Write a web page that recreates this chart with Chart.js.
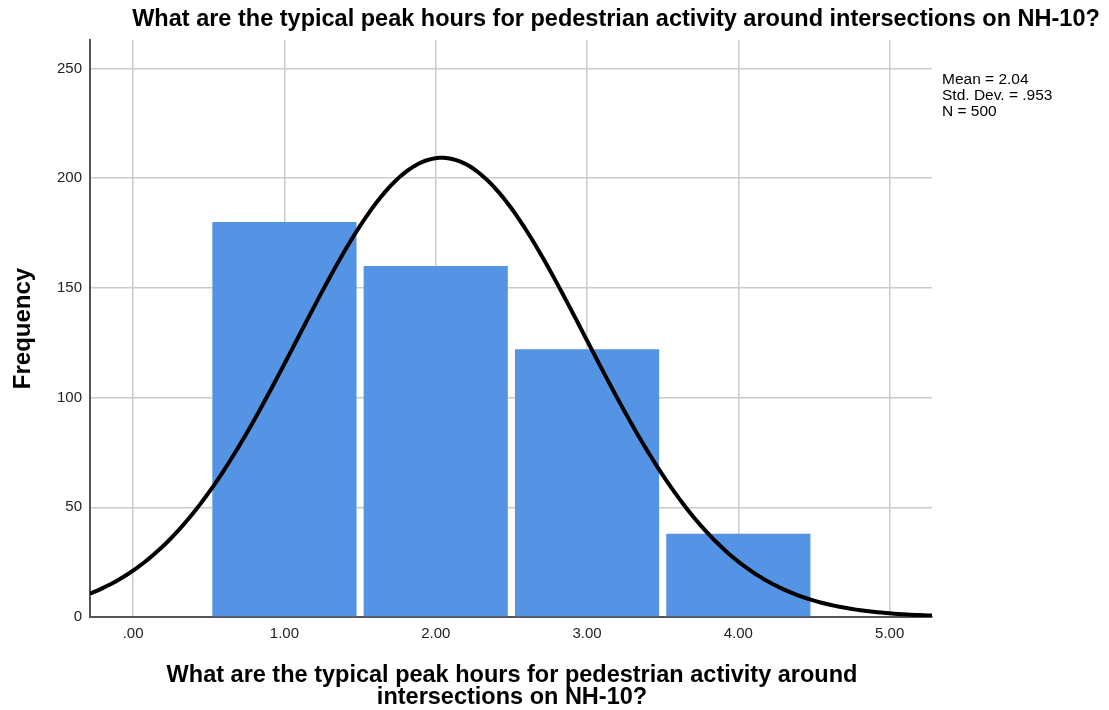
<!DOCTYPE html>
<html>
<head>
<meta charset="utf-8">
<title>Peak hours histogram</title>
<script src="https://cdn.jsdelivr.net/npm/chart.js@4.4.1/dist/chart.umd.min.js"></script>
<style>
  html, body { margin: 0; padding: 0; background: #fff; }
  canvas { display: block; }
</style>
</head>
<body>
<canvas id="hist-chart" width="1109" height="710"></canvas>
<script>
// histogram values
const binCenters = [1, 2, 3, 4];
const frequencies = [180, 160, 122, 38];

// axis ticks
const xTickValues = [0, 1, 2, 3, 4, 5];
const xTickLabels = [".00", "1.00", "2.00", "3.00", "4.00", "5.00"];
const yTickValues = [0, 50, 100, 150, 200, 250];

// fitted normal curve parameters (shown in the chart)
const statMean = 2.04;
const statStdDev = 0.953;
const statN = 500;
const statLines = ["Mean = 2.04", "Std. Dev. = .953", "N = 500"];

const chartTitle = "What are the typical peak hours for pedestrian activity around intersections on NH-10?";
const xTitleLines = ["What are the typical peak hours for pedestrian activity around", "intersections on NH-10?"];
const yTitle = "Frequency";

const xMin = -0.285, xMax = 5.28;
const yMin = 0, yMax = 263;

// normal curve scaled to the histogram (bin width 1)
const curvePoints = [];
for (let i = 0; i <= 200; i++) {
    const x = xMin + (xMax - xMin) * i / 200;
    const z = (x - statMean) / statStdDev;
    const y = statN / (statStdDev * Math.sqrt(2 * Math.PI)) * Math.exp(-0.5 * z * z);
    curvePoints.push({ x: x, y: y });
}

const font = "'Liberation Sans', Arial, sans-serif";

// title, axis titles and stats box drawn by hand
const textPlugin = {
    id: "spssText",
    afterDraw(chart) {
        const ctx = chart.ctx;
        const area = chart.chartArea;
        ctx.save();
        ctx.fillStyle = "#000";
        ctx.textBaseline = "middle";

        ctx.font = "bold 23.5px " + font;
        ctx.textAlign = "center";
        ctx.fillText(chartTitle, 616, 20);

        const cx = (area.left + area.right) / 2;
        ctx.fillText(xTitleLines[0], cx + 1, 676);
        ctx.fillText(xTitleLines[1], cx + 1, 698);

        ctx.save();
        ctx.translate(23, (area.top + area.bottom) / 2);
        ctx.rotate(-Math.PI / 2);
        ctx.font = "bold 24px " + font;
        ctx.fillText(yTitle, 0, 0);
        ctx.restore();

        ctx.font = "15.5px " + font;
        ctx.textAlign = "left";
        statLines.forEach((line, i) => {
            ctx.fillText(line, 942, 80 + i * 16);
        });
        ctx.restore();
    }
};

const ctx = document.getElementById("hist-chart").getContext("2d");
new Chart(ctx, {
    type: "bar",
    data: {
        datasets: [
            {
                type: "line",
                label: "Normal",
                data: curvePoints,
                borderColor: "#000",
                borderWidth: 4,
                pointRadius: 0,
                tension: 0,
                fill: false,
                order: 0,
            },
            {
                type: "bar",
                label: "Frequency",
                data: binCenters.map((c, i) => ({ x: c, y: frequencies[i] })),
                backgroundColor: "#5594e4",
                borderWidth: 0,
                barPercentage: 0.953,
                categoryPercentage: 1.0,
                order: 1,
            },
        ],
    },
    plugins: [textPlugin],
    options: {
        responsive: false,
        animation: false,
        layout: {
            padding: { left: 0, top: 40, right: 177, bottom: 0 },
        },
        plugins: {
            legend: { display: false },
            title: { display: false },
            tooltip: { enabled: false },
        },
        scales: {
            x: {
                type: "linear",
                min: xMin,
                max: xMax,
                offset: false,
                afterBuildTicks: (scale) => {
                    scale.ticks = xTickValues.map((v) => ({ value: v }));
                },
                afterFit: (scale) => {
                    scale.height = 93;
                },
                ticks: {
                    padding: 8,
                    color: "#222",
                    font: { family: font, size: 15 },
                    maxRotation: 0,
                    callback: (value) => {
                        const idx = xTickValues.indexOf(value);
                        return idx >= 0 ? xTickLabels[idx] : "";
                    },
                },
                grid: {
                    color: "#cccccc",
                    lineWidth: 1.5,
                    drawTicks: false,
                    offset: false,
                },
                border: { color: "#555", width: 2 },
            },
            y: {
                min: yMin,
                max: yMax,
                afterBuildTicks: (scale) => {
                    scale.ticks = yTickValues.map((v) => ({ value: v }));
                },
                afterFit: (scale) => {
                    scale.width = 90;
                },
                ticks: {
                    padding: 8,
                    color: "#222",
                    font: { family: font, size: 15 },
                },
                grid: {
                    color: "#cccccc",
                    lineWidth: 1.5,
                    drawTicks: false,
                },
                border: { color: "#555", width: 2 },
            },
        },
    },
});
</script>
</body>
</html>
